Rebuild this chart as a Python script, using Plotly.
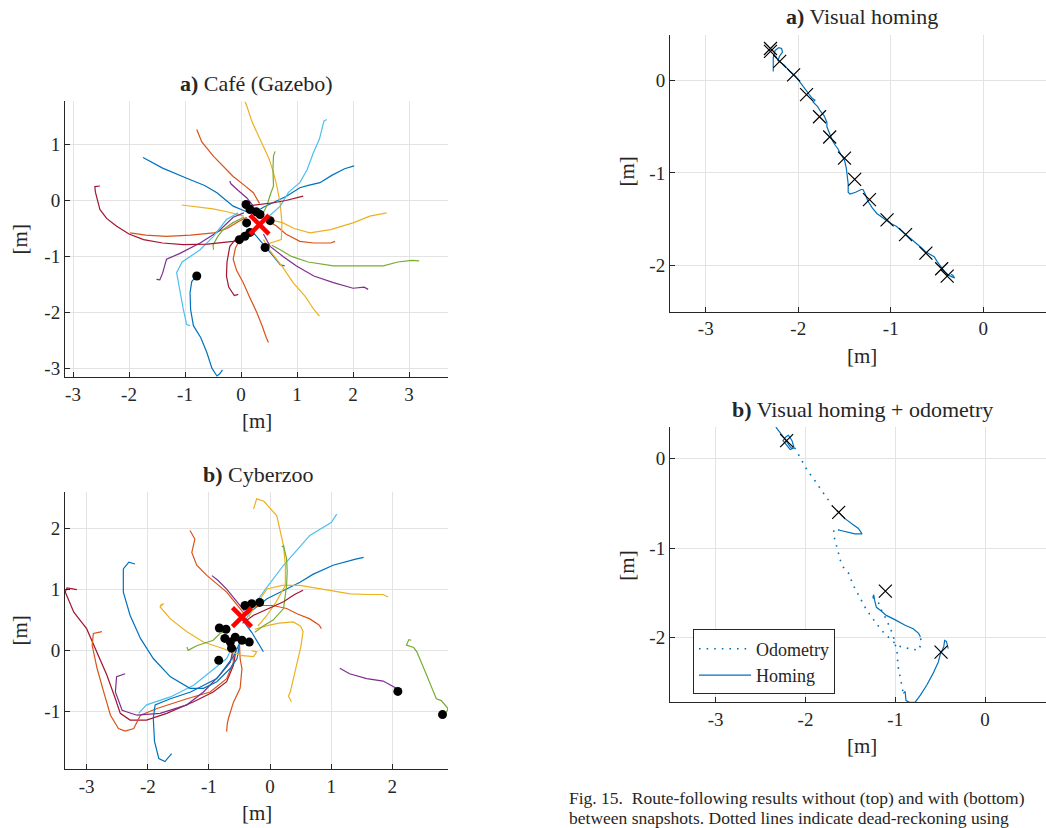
import plotly.graph_objects as go

# ---------------- colours (MATLAB default order) ----------------
C_BLUE, C_ORANGE, C_YELLOW, C_PURPLE, C_GREEN, C_LBLUE, C_DRED = (
    "#0072BD", "#D95319", "#EDB120", "#7E2F8E", "#77AC30", "#4DBEEE", "#A2142F")

# ---------------- a) Café (Gazebo) trajectories ----------------
cafe_01_x = [-1.75, -1.40, -0.97, -0.65, -0.43, -0.14, 0.10]
cafe_01_y = [0.77, 0.58, 0.40, 0.27, 0.14, -0.10, -0.20]
cafe_02_x = [2.02, 1.85, 1.62, 1.41, 1.20, 1.05, 0.82, 0.60, 0.40, 0.27]
cafe_02_y = [0.62, 0.57, 0.45, 0.32, 0.27, 0.23, 0.08, -0.02, -0.12, -0.20]
cafe_03_x = [-0.33, -0.38, -0.43, -0.52, -0.61, -0.72, -0.85, -0.90, -0.91, -0.88, -0.79]
cafe_03_y = [-3.03, -3.10, -3.14, -3.00, -2.72, -2.45, -2.24, -1.95, -1.65, -1.45, -1.35]
cafe_04_x = [0.78, 0.70, 0.58, 0.45, 0.30, 0.20]
cafe_04_y = [-1.17, -1.15, -1.00, -0.85, -0.68, -0.55]
cafe_05_x = [-0.79, -0.70, -0.49, -0.30, -0.14, 0.05, 0.22, 0.33]
cafe_05_y = [1.27, 1.05, 0.79, 0.60, 0.43, 0.28, 0.14, -0.05]
cafe_06_x = [0.49, 0.45, 0.38, 0.28, 0.15, 0.04, -0.08, -0.14, -0.10, -0.02, 0.10]
cafe_06_y = [-2.54, -2.45, -2.25, -2.00, -1.72, -1.47, -1.25, -1.05, -0.85, -0.70, -0.55]
cafe_07_x = [1.68, 1.60, 1.30, 1.05, 0.80, 0.64, 0.45]
cafe_07_y = [-0.73, -0.76, -0.76, -0.73, -0.60, -0.46, -0.35]
cafe_08_x = [-1.98, -1.70, -1.33, -0.90, -0.49, -0.25, -0.05, 0.10]
cafe_08_y = [-0.58, -0.62, -0.64, -0.62, -0.58, -0.50, -0.38, -0.30]
cafe_09_x = [0.07, 0.10, 0.20, 0.32, 0.40, 0.50, 0.58, 0.64, 0.70, 0.73, 0.72, 0.60, 0.52, 0.43]
cafe_09_y = [1.77, 1.70, 1.40, 1.15, 0.97, 0.75, 0.50, 0.26, -0.05, -0.40, -0.70, -0.74, -0.76, -0.85]
cafe_10_x = [-1.06, -0.80, -0.50, -0.25, -0.10, 0.05]
cafe_10_y = [-0.08, -0.11, -0.15, -0.20, -0.24, -0.28]
cafe_11_x = [2.60, 2.30, 2.00, 1.60, 1.23, 0.95, 0.75, 0.55]
cafe_11_y = [-0.22, -0.28, -0.40, -0.52, -0.58, -0.50, -0.40, -0.35]
cafe_12_x = [1.40, 1.30, 1.15, 0.93, 0.75, 0.60, 0.52, 0.40]
cafe_12_y = [-2.07, -1.95, -1.72, -1.47, -1.20, -1.00, -0.90, -0.70]
cafe_13_x = [-0.20, -0.18, -0.05, 0.10, 0.22]
cafe_13_y = [0.35, 0.30, 0.18, 0.05, -0.10]
cafe_14_x = [-1.51, -1.45, -1.40, -1.33, -1.10, -0.73, -0.40, -0.14, 0.05]
cafe_14_y = [-1.41, -1.42, -1.30, -1.05, -0.95, -0.76, -0.55, -0.30, -0.22]
cafe_15_x = [2.27, 2.20, 2.00, 1.65, 1.30, 0.99, 0.75, 0.52, 0.40]
cafe_15_y = [-1.59, -1.55, -1.57, -1.47, -1.35, -1.17, -1.00, -0.82, -0.60]
cafe_16_x = [0.61, 0.58, 0.57, 0.58, 0.52, 0.46, 0.38]
cafe_16_y = [0.88, 0.80, 0.55, 0.26, 0.10, -0.10, -0.25]
cafe_17_x = [3.18, 3.05, 2.80, 2.54, 2.20, 1.65, 1.20, 0.90, 0.70, 0.55]
cafe_17_y = [-1.08, -1.07, -1.10, -1.17, -1.17, -1.17, -1.10, -1.00, -0.88, -0.80]
cafe_18_x = [-0.49, -0.50, -0.42, -0.32, -0.15, 0.05]
cafe_18_y = [-0.88, -0.80, -0.65, -0.52, -0.40, -0.30]
cafe_19_x = [1.53, 1.48, 1.40, 1.29, 1.18, 1.05, 0.85, 0.70, 0.50, 0.35]
cafe_19_y = [1.45, 1.42, 1.10, 0.85, 0.55, 0.32, 0.15, -0.10, -0.28, -0.38]
cafe_20_x = [-0.91, -0.97, -1.03, -1.08, -1.15, -1.05, -0.73, -0.50, -0.26, -0.05]
cafe_20_y = [-2.24, -2.22, -1.95, -1.65, -1.29, -1.10, -0.88, -0.65, -0.34, -0.22]
cafe_21_x = [-2.52, -2.61, -2.60, -2.52, -2.40, -2.22, -2.00, -1.74, -1.40, -1.03, -0.60, -0.14, -0.02]
cafe_21_y = [0.26, 0.25, 0.15, -0.16, -0.32, -0.46, -0.60, -0.70, -0.76, -0.79, -0.78, -0.73, -0.70]
cafe_22_x = [1.11, 1.00, 0.80, 0.58, 0.30, 0.10]
cafe_22_y = [0.08, 0.05, 0.00, -0.04, -0.08, -0.10]
cafe_23_x = [-0.05, -0.12, -0.22, -0.26, -0.25, -0.22, -0.20, -0.10, 0.00]
cafe_23_y = [-1.68, -1.70, -1.55, -1.35, -1.10, -0.95, -0.82, -0.70, -0.62]

cafe_end_x = [0.09, 0.16, 0.27, 0.34, 0.52, 0.10, 0.16, 0.07, -0.03, 0.43, -0.79]
cafe_end_y = [-0.07, -0.16, -0.20, -0.25, -0.36, -0.40, -0.57, -0.64, -0.70, -0.84, -1.35]
cafe_goal_x = [0.33]
cafe_goal_y = [-0.43]

# ---------------- b) Cyberzoo trajectories ----------------
zoo_01_x = [-3.16, -3.32, -3.35, -3.21, -3.00, -2.83, -2.67, -2.53, -2.45, -2.29, -2.02, -1.69, -1.25, -0.93, -0.71, -0.60, -0.55]
zoo_01_y = [1.00, 1.03, 0.96, 0.63, 0.36, -0.02, -0.40, -0.79, -1.03, -1.14, -1.14, -1.03, -0.84, -0.68, -0.51, -0.24, 0.05]
zoo_02_x = [-2.75, -2.89, -2.91, -2.83, -2.72, -2.61, -2.48, -2.37, -2.23, -2.12, -1.85, -1.36, -0.98, -0.71, -0.60, -0.62]
zoo_02_y = [0.31, 0.28, 0.09, -0.29, -0.68, -1.06, -1.28, -1.32, -1.28, -1.06, -0.95, -0.79, -0.68, -0.46, -0.19, 0.10]
zoo_03_x = [-2.37, -2.51, -2.53, -2.42, -2.18, -1.80, -1.36, -1.09, -0.82, -0.65, -0.60]
zoo_03_y = [-0.38, -0.43, -0.68, -0.98, -1.06, -1.03, -0.89, -0.68, -0.40, -0.19, 0.05]
zoo_04_x = [-2.15, -2.02, -1.63, -1.25, -0.98, -0.71, -0.60]
zoo_04_y = [-1.03, -0.89, -0.76, -0.57, -0.35, -0.13, 0.10]
zoo_05_x = [1.09, 1.00, 0.65, 0.22, -0.05, -0.27, -0.40]
zoo_05_y = [2.24, 2.10, 1.89, 1.40, 1.04, 0.74, 0.50]
zoo_06_x = [-2.21, -2.31, -2.40, -2.40, -2.29, -2.12, -1.91, -1.63, -1.31, -1.09, -0.87, -0.65, -0.54, -0.50]
zoo_06_y = [1.42, 1.45, 1.34, 0.96, 0.58, 0.20, -0.13, -0.43, -0.62, -0.62, -0.51, -0.29, -0.13, 0.10]
zoo_07_x = [-1.61, -1.72, -1.82, -1.89, -1.91, -1.88, -1.63, -1.30, -0.87, -0.60, -0.49]
zoo_07_y = [-1.69, -1.82, -1.77, -1.49, -1.11, -0.89, -0.79, -0.68, -0.46, -0.10, 0.14]
zoo_08_x = [1.53, 1.40, 1.03, 0.70, 0.49, 0.20, -0.05, -0.33, -0.45]
zoo_08_y = [1.53, 1.50, 1.40, 1.25, 1.12, 0.98, 0.85, 0.63, 0.55]
zoo_09_x = [-0.45, -0.30, -0.18, -0.11]
zoo_09_y = [0.50, 0.30, 0.10, -0.02]
zoo_10_x = [-1.31, -1.23, -1.28, -1.20, -1.03, -0.85, -0.71, -0.49, -0.42]
zoo_10_y = [1.97, 1.83, 1.61, 1.40, 1.23, 1.08, 0.96, 0.69, 0.60]
zoo_11_x = [0.84, 0.80, 0.65, 0.45, 0.27, 0.05, -0.16, -0.30]
zoo_11_y = [0.36, 0.42, 0.52, 0.60, 0.69, 0.74, 0.74, 0.70]
zoo_12_x = [-0.71, -0.70, -0.68, -0.60, -0.49, -0.46, -0.49, -0.50]
zoo_12_y = [-1.33, -1.20, -1.11, -0.85, -0.62, -0.30, -0.13, 0.10]
zoo_13_x = [-0.27, -0.22, -0.10, 0.11, 0.22, 0.25, 0.25, 0.10, -0.05, -0.20]
zoo_13_y = [2.32, 2.49, 2.45, 2.21, 1.72, 1.40, 1.07, 0.80, 0.58, 0.40]
zoo_14_x = [1.93, 1.85, 1.60, 1.31, 0.90, 0.49, 0.20, -0.05, -0.27, -0.35]
zoo_14_y = [0.88, 0.92, 0.92, 0.93, 1.00, 1.07, 1.07, 1.01, 0.69, 0.55]
zoo_15_x = [-1.80, -1.74, -1.80, -1.63, -1.36, -1.09, -0.76, -0.49, -0.27, -0.22, -0.30]
zoo_15_y = [0.74, 0.77, 0.72, 0.52, 0.31, 0.14, 0.03, -0.08, -0.10, -0.02, 0.00]
zoo_16_x = [0.35, 0.30, 0.33, 0.44, 0.50, 0.54, 0.50, 0.38, 0.15, -0.05, -0.25]
zoo_16_y = [-0.84, -0.75, -0.68, -0.24, 0.05, 0.31, 0.40, 0.47, 0.45, 0.41, 0.35]
zoo_17_x = [-0.95, -0.85, -0.71, -0.60, -0.49, -0.42]
zoo_17_y = [1.23, 1.15, 1.01, 0.88, 0.74, 0.65]
zoo_18_x = [1.14, 1.30, 1.58, 1.85, 2.07, 2.09]
zoo_18_y = [-0.29, -0.38, -0.46, -0.50, -0.62, -0.67]
zoo_19_x = [-1.36, -1.34, -1.20, -0.93, -0.82, -0.72]
zoo_19_y = [0.06, 0.005, 0.08, 0.17, 0.28, 0.32]
zoo_20_x = [0.19, 0.22, 0.27, 0.28, 0.27, 0.22, 0.05, -0.10, -0.25]
zoo_20_y = [1.70, 1.72, 1.51, 1.30, 1.07, 0.69, 0.50, 0.41, 0.30]
zoo_21_x = [2.31, 2.27, 2.23, 2.35, 2.40, 2.48, 2.56, 2.62, 2.72, 2.80, 2.91, 2.88, 2.82]
zoo_21_y = [0.17, 0.18, 0.09, 0.05, -0.02, -0.20, -0.40, -0.55, -0.79, -0.82, -0.95, -1.02, -1.05]
zoo_22_x = [0.54, 0.40, 0.22, 0.00, -0.27, -0.45]
zoo_22_y = [0.99, 0.92, 0.80, 0.70, 0.58, 0.45]

zoo_end_x = [-0.41, -0.30, -0.17, -0.83, -0.72, -0.74, -0.65, -0.57, -0.46, -0.34, -0.63, -0.84, 2.09, 2.82]
zoo_end_y = [0.74, 0.77, 0.79, 0.37, 0.35, 0.20, 0.14, 0.22, 0.17, 0.14, 0.04, -0.16, -0.67, -1.05]
zoo_goal_x = [-0.46]
zoo_goal_y = [0.55]

# ---------------- a) Visual homing ----------------
vh_path_x = [-2.27, -2.27, -2.25, -2.21, -2.18, -2.17, -2.20, -2.22, -2.15, -2.09, -2.03, -1.98, -1.94,
             -1.90, -1.85, -1.82, -1.84, -1.79, -1.76, -1.72, -1.70, -1.69, -1.69, -1.66, -1.63, -1.60,
             -1.57, -1.54, -1.50, -1.48, -1.47, -1.46, -1.46, -1.44, -1.38, -1.32, -1.30, -1.28, -1.25,
             -1.20, -1.15, -1.10, -1.05, -1.00, -0.94, -0.88, -0.83, -0.77, -0.72, -0.66, -0.62, -0.58,
             -0.53, -0.50, -0.46, -0.42, -0.38, -0.34, -0.31, -0.33, -0.35]
vh_path_y = [0.10, 0.25, 0.33, 0.36, 0.35, 0.31, 0.27, 0.22, 0.17, 0.10, 0.05, -0.02, -0.07,
             -0.13, -0.19, -0.21, -0.23, -0.28, -0.33, -0.38, -0.42, -0.45, -0.50, -0.58, -0.65, -0.70,
             -0.74, -0.80, -0.86, -0.95, -1.03, -1.12, -1.21, -1.23, -1.21, -1.18, -1.18, -1.22, -1.30,
             -1.38, -1.44, -1.48, -1.52, -1.55, -1.58, -1.63, -1.68, -1.73, -1.77, -1.82, -1.86, -1.88,
             -1.91, -1.96, -2.02, -2.07, -2.11, -2.13, -2.14, -2.11, -2.10]
vh_snap_x = [-2.30, -2.30, -2.20, -2.05, -1.91, -1.77, -1.66, -1.50, -1.39, -1.23, -1.04, -0.84, -0.62, -0.45, -0.39]
vh_snap_y = [0.35, 0.32, 0.21, 0.065, -0.15, -0.39, -0.61, -0.84, -1.07, -1.29, -1.51, -1.67, -1.87, -2.04, -2.12]

# ---------------- b) Visual homing + odometry ----------------
homing_1_x = [-2.33, -2.28, -2.23, -2.17, -2.15, -2.13, -2.15, -2.19, -2.22, -2.25, -2.21, -2.17, -2.12]
homing_1_y = [0.35, 0.29, 0.22, 0.13, 0.11, 0.13, 0.20, 0.26, 0.24, 0.20, 0.15, 0.10, 0.12]
homing_2_x = [-1.62, -1.54, -1.45, -1.37, -1.41, -1.48, -1.56, -1.63]
homing_2_y = [-0.80, -0.82, -0.84, -0.84, -0.78, -0.73, -0.67, -0.60]
homing_3_x = [-0.72, -0.74, -0.80, -0.89, -1.00, -1.10, -1.17, -1.21, -1.23, -1.24, -1.25]
homing_3_y = [-1.99, -1.95, -1.90, -1.86, -1.80, -1.75, -1.69, -1.66, -1.58, -1.52, -1.55]
homing_4_x = [-0.91, -0.89, -0.88, -0.84, -0.78, -0.72, -0.65, -0.58, -0.52, -0.50, -0.46, -0.45, -0.43, -0.41]
homing_4_y = [-2.62, -2.60, -2.70, -2.72, -2.72, -2.64, -2.53, -2.40, -2.27, -2.19, -2.10, -2.03, -2.04, -2.12]
odo_1_x = [-2.12, -2.08, -2.04, -2.00, -1.97, -1.92, -1.88, -1.84, -1.79, -1.74, -1.70, -1.65, -1.63]
odo_1_y = [0.12, 0.05, -0.02, -0.10, -0.15, -0.21, -0.27, -0.34, -0.40, -0.47, -0.53, -0.58, -0.60]
odo_2_x = [-1.62, -1.68, -1.69, -1.67, -1.65, -1.63, -1.61, -1.58, -1.52, -1.47, -1.39, -1.32, -1.24,
           -1.15, -1.06, -0.97, -0.85, -0.74, -0.71, -0.72]
odo_2_y = [-0.80, -0.78, -0.84, -0.91, -0.99, -1.06, -1.14, -1.21, -1.28, -1.41, -1.56, -1.69, -1.80,
           -1.92, -2.01, -2.09, -2.12, -2.14, -2.06, -1.99]
odo_3_x = [-1.25, -1.19, -1.16, -1.13, -1.10, -1.06, -1.02, -1.00, -0.98, -0.97, -0.95, -0.93, -0.91]
odo_3_y = [-1.55, -1.60, -1.68, -1.73, -1.80, -1.88, -1.99, -2.08, -2.16, -2.31, -2.42, -2.53, -2.62]
vho_snap_x = [-2.21, -1.63, -1.11, -0.49]
vho_snap_y = [0.20, -0.60, -1.48, -2.16]

# ---------------- axes ticks ----------------
cafe_xticks = [-3, -2, -1, 0, 1, 2, 3]
cafe_yticks = [-3, -2, -1, 0, 1]
zoo_xticks = [-3, -2, -1, 0, 1, 2]
zoo_yticks = [-1, 0, 1, 2]
vh_xticks = [-3, -2, -1, 0]
vh_yticks = [-2, -1, 0]

# ======================================================================
W, H = 1046, 828
FONT = "Liberation Serif"
INK = "#262626"
GRID = "#e3e3e3"

cafe_paths = [
    (cafe_01_x, cafe_01_y, C_BLUE), (cafe_02_x, cafe_02_y, C_BLUE), (cafe_03_x, cafe_03_y, C_BLUE),
    (cafe_04_x, cafe_04_y, C_BLUE), (cafe_05_x, cafe_05_y, C_ORANGE), (cafe_06_x, cafe_06_y, C_ORANGE),
    (cafe_07_x, cafe_07_y, C_ORANGE), (cafe_08_x, cafe_08_y, C_ORANGE), (cafe_09_x, cafe_09_y, C_YELLOW),
    (cafe_10_x, cafe_10_y, C_YELLOW), (cafe_11_x, cafe_11_y, C_YELLOW), (cafe_12_x, cafe_12_y, C_YELLOW),
    (cafe_13_x, cafe_13_y, C_PURPLE), (cafe_14_x, cafe_14_y, C_PURPLE), (cafe_15_x, cafe_15_y, C_PURPLE),
    (cafe_16_x, cafe_16_y, C_GREEN), (cafe_17_x, cafe_17_y, C_GREEN), (cafe_18_x, cafe_18_y, C_GREEN),
    (cafe_19_x, cafe_19_y, C_LBLUE), (cafe_20_x, cafe_20_y, C_LBLUE), (cafe_21_x, cafe_21_y, C_DRED),
    (cafe_22_x, cafe_22_y, C_DRED), (cafe_23_x, cafe_23_y, C_DRED),
]
zoo_paths = [
    (zoo_01_x, zoo_01_y, C_DRED), (zoo_02_x, zoo_02_y, C_ORANGE), (zoo_03_x, zoo_03_y, C_PURPLE),
    (zoo_04_x, zoo_04_y, C_LBLUE), (zoo_05_x, zoo_05_y, C_LBLUE), (zoo_06_x, zoo_06_y, C_BLUE),
    (zoo_07_x, zoo_07_y, C_BLUE), (zoo_08_x, zoo_08_y, C_BLUE), (zoo_09_x, zoo_09_y, C_BLUE),
    (zoo_10_x, zoo_10_y, C_ORANGE), (zoo_11_x, zoo_11_y, C_ORANGE), (zoo_12_x, zoo_12_y, C_ORANGE),
    (zoo_13_x, zoo_13_y, C_YELLOW), (zoo_14_x, zoo_14_y, C_YELLOW), (zoo_15_x, zoo_15_y, C_YELLOW),
    (zoo_16_x, zoo_16_y, C_YELLOW), (zoo_17_x, zoo_17_y, C_PURPLE), (zoo_18_x, zoo_18_y, C_PURPLE),
    (zoo_19_x, zoo_19_y, C_GREEN), (zoo_20_x, zoo_20_y, C_GREEN), (zoo_21_x, zoo_21_y, C_GREEN),
    (zoo_22_x, zoo_22_y, C_DRED),
]

fig = go.Figure()


def line(xs, ys, color, ax, **kw):
    fig.add_trace(go.Scatter(x=xs, y=ys, mode="lines", xaxis="x" + ax, yaxis="y" + ax,
                             line=dict(color=color, width=1.2), showlegend=False,
                             hoverinfo="skip", **kw))


def join(*segs):
    out = []
    for s in segs:
        if out:
            out.append(None)
        out.extend(s)
    return out


for xs, ys, c in cafe_paths:
    line(xs, ys, c, "")
fig.add_trace(go.Scatter(x=cafe_end_x, y=cafe_end_y, mode="markers", xaxis="x", yaxis="y",
                         marker=dict(color="black", size=9), showlegend=False))
fig.add_trace(go.Scatter(x=cafe_goal_x, y=cafe_goal_y, mode="markers", xaxis="x", yaxis="y",
                         marker=dict(symbol="x-thin", size=19, line=dict(color="#ff0000", width=4.5)),
                         showlegend=False))

for xs, ys, c in zoo_paths:
    line(xs, ys, c, "2")
fig.add_trace(go.Scatter(x=zoo_end_x, y=zoo_end_y, mode="markers", xaxis="x2", yaxis="y2",
                         marker=dict(color="black", size=9), showlegend=False))
fig.add_trace(go.Scatter(x=zoo_goal_x, y=zoo_goal_y, mode="markers", xaxis="x2", yaxis="y2",
                         marker=dict(symbol="x-thin", size=19, line=dict(color="#ff0000", width=4.5)),
                         showlegend=False))

line(vh_path_x, vh_path_y, C_BLUE, "3")
fig.add_trace(go.Scatter(x=vh_snap_x, y=vh_snap_y, mode="markers", xaxis="x3", yaxis="y3",
                         marker=dict(symbol="x-thin", size=13, line=dict(color="black", width=1.2)),
                         showlegend=False))

fig.add_trace(go.Scatter(x=join(odo_1_x, odo_2_x, odo_3_x), y=join(odo_1_y, odo_2_y, odo_3_y),
                         mode="lines", xaxis="x4", yaxis="y4", name="Odometry",
                         line=dict(color=C_BLUE, width=1.6, dash="1.6px,6px")))
fig.add_trace(go.Scatter(x=join(homing_1_x, homing_2_x, homing_3_x, homing_4_x),
                         y=join(homing_1_y, homing_2_y, homing_3_y, homing_4_y),
                         mode="lines", xaxis="x4", yaxis="y4", name="Homing",
                         line=dict(color=C_BLUE, width=1.2)))
fig.add_trace(go.Scatter(x=vho_snap_x, y=vho_snap_y, mode="markers", xaxis="x4", yaxis="y4",
                         marker=dict(symbol="x-thin", size=13, line=dict(color="black", width=1.2)),
                         showlegend=False))


def dx(a, b):
    return [a / W, b / W]


def dy(top, bottom):
    return [1 - bottom / H, 1 - top / H]


def axis(domain, rng, anchor, ticks):
    return dict(domain=domain, range=rng, anchor=anchor, tickmode="array", tickvals=ticks,
                ticktext=[f"{t:g}" for t in ticks], showline=True, linecolor=INK, linewidth=1,
                mirror=False, ticks="inside", ticklen=5, tickcolor=INK, showgrid=True,
                gridcolor=GRID, gridwidth=1, zeroline=False, fixedrange=True,
                tickfont=dict(family=FONT, size=19, color=INK))


layout_axes = dict(
    xaxis=axis(dx(65, 448), [-3.143, 3.696], "y", cafe_xticks),
    yaxis=axis(dy(101, 378), [-3.16, 1.786], "x", cafe_yticks),
    xaxis2=axis(dx(65, 448), [-3.354, 2.91], "y2", zoo_xticks),
    yaxis2=axis(dy(493, 770.7), [-1.94, 2.605], "x2", zoo_yticks),
    xaxis3=axis(dx(670, 1046), [-3.386, 0.678], "y3", vh_xticks),
    yaxis3=axis(dy(35, 312.3), [-2.505, 0.498], "x3", vh_yticks),
    xaxis4=axis(dx(670, 1046), [-3.509, 0.679], "y4", vh_xticks),
    yaxis4=axis(dy(427.7, 704), [-2.72, 0.356], "x4", vh_yticks),
)


def ann(text, px, py, size=20, angle=0, xanchor="center"):
    return dict(text=text, x=px / W, y=1 - py / H, xref="paper", yref="paper", showarrow=False,
                xanchor=xanchor, yanchor="middle", textangle=angle,
                font=dict(family=FONT, size=size, color=INK))


nb = "\u00a0"
annotations = [
    ann("<b>a)</b> Café (Gazebo)", 256.5, 84, 22),
    ann("<b>b)</b> Cyberzoo", 258, 476, 22),
    ann("<b>a)</b> Visual homing", 862, 17, 22),
    ann("<b>b)</b> Visual homing + odometry", 862, 410, 22),
    ann("[m]", 256.5, 422, 21),
    ann("[m]", 256.5, 815, 21),
    ann("[m]", 862, 357, 21),
    ann("[m]", 862, 748, 21),
    ann("[m]", 20, 240, 21, -90),
    ann("[m]", 20, 632, 21, -90),
    ann("[m]", 627, 172, 21, -90),
    ann("[m]", 627, 567, 21, -90),
    ann("Fig. 15." + nb * 2 + "Route-following results without (top) and with (bottom)",
        567, 800, 17.5, xanchor="left"),
    ann("between snapshots. Dotted lines indicate dead-reckoning using",
        567, 820, 17.5, xanchor="left"),
]

fig.update_layout(
    width=W, height=H, margin=dict(l=0, r=0, t=0, b=0),
    paper_bgcolor="white", plot_bgcolor="white",
    font=dict(family=FONT, color=INK),
    annotations=annotations,
    legend=dict(x=693 / W, y=1 - 631 / H, xanchor="left", yanchor="top",
                bordercolor=INK, borderwidth=1, bgcolor="white", tracegroupgap=0,
                font=dict(family=FONT, size=18, color=INK), itemwidth=52),
    **layout_axes,
)

fig.write_html("out.html")
